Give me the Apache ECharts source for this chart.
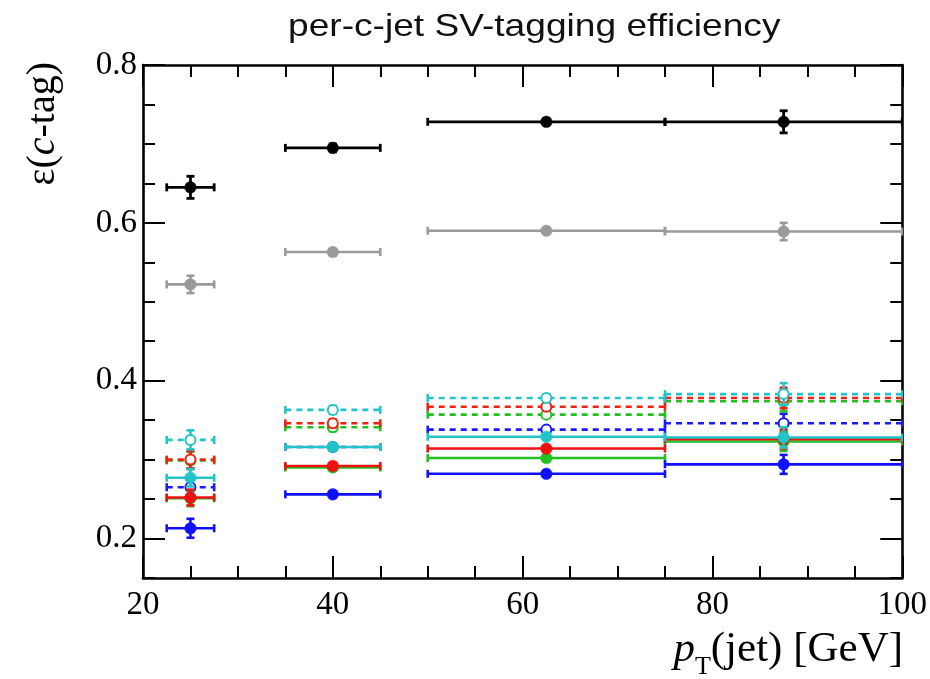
<!DOCTYPE html>
<html><head><meta charset="utf-8">
<script src="https://cdn.jsdelivr.net/npm/echarts@6/dist/echarts.min.js"></script>
<style>html,body{margin:0;padding:0;background:#fff}#c{width:930px;height:679px}</style>
</head><body><div id="c"></div>
<script>
// Bins in pT(jet) [GeV]
var binLow  = [22.5, 35, 50, 75];
var binHigh = [27.5, 45, 75, 100];
var binCenter = [25, 40, 62.5, 87.5];

// Efficiency values and errors per series
var blackVals = [0.645, 0.695, 0.728, 0.728];
var blackErrs = [0.014, 0.005, 0.004, 0.014];
var grayVals  = [0.522, 0.563, 0.590, 0.589];
var grayErrs  = [0.011, 0.004, 0.003, 0.011];

var cyanOpenVals  = [0.325, 0.363, 0.378, 0.383];
var cyanOpenErrs  = [0.012, 0.005, 0.004, 0.014];
var greenOpenVals = [0.299, 0.341, 0.357, 0.374];
var greenOpenErrs = [0.011, 0.005, 0.004, 0.013];
var redOpenVals   = [0.300, 0.346, 0.367, 0.378];
var redOpenErrs   = [0.011, 0.005, 0.004, 0.013];
var blueOpenVals  = [0.265, 0.316, 0.338, 0.346];
var blueOpenErrs  = [0.010, 0.004, 0.004, 0.012];

var cyanFillVals  = [0.277, 0.316, 0.329, 0.328];
var cyanFillErrs  = [0.011, 0.004, 0.004, 0.013];
var greenFillVals = [0.251, 0.290, 0.302, 0.323];
var greenFillErrs = [0.010, 0.004, 0.003, 0.012];
var redFillVals   = [0.252, 0.292, 0.314, 0.326];
var redFillErrs   = [0.010, 0.004, 0.003, 0.012];
var blueFillVals  = [0.213, 0.256, 0.282, 0.294];
var blueFillErrs  = [0.012, 0.004, 0.003, 0.012];

var yMajorTicks = [0.2, 0.4, 0.6, 0.8];
var yMinorTicks = [0.15, 0.25, 0.3, 0.35, 0.45, 0.5, 0.55, 0.65, 0.7, 0.75];

var seriesDefs = [
  {name:'black', color:'#000000', open:false, vals:blackVals, errs:blackErrs},
  {name:'gray', color:'#9a9a9a', open:false, vals:grayVals, errs:grayErrs},
  {name:'blueOpen', color:'#1a1aff', open:true, vals:blueOpenVals, errs:blueOpenErrs},
  {name:'greenOpen', color:'#22c022', open:true, vals:greenOpenVals, errs:greenOpenErrs},
  {name:'redOpen', color:'#ee2211', open:true, vals:redOpenVals, errs:redOpenErrs},
  {name:'cyanOpen', color:'#22c4c8', open:true, vals:cyanOpenVals, errs:cyanOpenErrs},
  {name:'greenFill', color:'#22c022', open:false, vals:greenFillVals, errs:greenFillErrs},
  {name:'redFill', color:'#ee1111', open:false, vals:redFillVals, errs:redFillErrs},
  {name:'cyanFill', color:'#22c4c8', open:false, vals:cyanFillVals, errs:cyanFillErrs},
  {name:'blueFill', color:'#1010ff', open:false, vals:blueFillVals, errs:blueFillErrs}
];

function makeSeries(def){
  var data = def.vals.map(function(v,i){ return [binCenter[i], v, binLow[i], binHigh[i], def.errs[i]]; });
  return {
    type:'custom', name:def.name, data:data, clip:true, z: 2,
    encode:{x:[0,2,3], y:1},
    renderItem:function(params, api){
      var xc = api.value(0), y = api.value(1), lo = api.value(2), hi = api.value(3), e = api.value(4);
      var pc = api.coord([xc, y]);
      var pl = api.coord([lo, y]);
      var ph = api.coord([hi, y]);
      var pt = api.coord([xc, y + e]);
      var pb = api.coord([xc, y - e]);
      var lw = def.name==='black' ? 2.8 : 2.6;
      var ls = {stroke:def.color, lineWidth:lw, lineDash: def.open ? [6,5] : null, fill:null};
      var solid = {stroke:def.color, lineWidth:lw, fill:null};
      var cap = 4;
      var ch = [
        {type:'line', shape:{x1:pl[0], y1:pl[1], x2:ph[0], y2:ph[1]}, style:ls},
        {type:'line', shape:{x1:pl[0], y1:pl[1]-cap, x2:pl[0], y2:pl[1]+cap}, style:solid},
        {type:'line', shape:{x1:ph[0], y1:ph[1]-cap, x2:ph[0], y2:ph[1]+cap}, style:solid},
        {type:'line', shape:{x1:pt[0], y1:pt[1], x2:pb[0], y2:pb[1]}, style:solid},
        {type:'line', shape:{x1:pt[0]-cap, y1:pt[1], x2:pt[0]+cap, y2:pt[1]}, style:solid},
        {type:'line', shape:{x1:pb[0]-cap, y1:pb[1], x2:pb[0]+cap, y2:pb[1]}, style:solid},
        {type:'circle', shape:{cx:pc[0], cy:pc[1], r: def.open ? 5 : 5.8},
          style: def.open ? {fill:'#ffffff', stroke:def.color, lineWidth:2} : {fill:def.color, stroke:def.color, lineWidth:0.5}}
      ];
      return {type:'group', children:ch};
    }
  };
}

var serif = 'Liberation Serif, Times New Roman, serif';
var frameLine = {show:true, lineStyle:{color:'#000', width:2.6}};
var chart = echarts.init(document.getElementById('c'), null, {renderer:'canvas'});
var option = {
  backgroundColor:'#ffffff',
  animation:false,
  grid:{left:143, right:27, top:65, bottom:101, containLabel:false},
  xAxis:[
    {type:'value', min:20, max:100, interval:20, position:'bottom',
     axisLine:frameLine,
     axisTick:{show:true, inside:true, length:22, lineStyle:{color:'#000', width:2}},
     minorTick:{show:true, splitNumber:4, length:12, lineStyle:{color:'#000', width:2}},
     axisLabel:{show:true, color:'#000', fontFamily:serif, fontSize:33, margin:11},
     splitLine:{show:false}},
    {type:'value', min:20, max:100, interval:20, position:'top',
     axisLine:frameLine,
     axisTick:{show:true, inside:true, length:22, lineStyle:{color:'#000', width:2}},
     minorTick:{show:true, splitNumber:4, length:12, lineStyle:{color:'#000', width:2}},
     axisLabel:{show:false}, splitLine:{show:false}}
  ],
  yAxis:[
    {type:'value', min:0.15, max:0.8, position:'left',
     axisLine:frameLine,
     axisTick:{show:true, inside:true, length:22, customValues:yMajorTicks, lineStyle:{color:'#000', width:2}},
     axisLabel:{show:true, customValues:yMajorTicks, color:'#000', fontFamily:serif, fontSize:33, margin:6,
       formatter:function(v){ return v.toFixed(1); }},
     splitLine:{show:false}},
    {type:'value', min:0.15, max:0.8, position:'left',
     axisLine:{show:false},
     axisTick:{show:true, inside:true, length:12, customValues:yMinorTicks, lineStyle:{color:'#000', width:2}},
     axisLabel:{show:false}, splitLine:{show:false}},
    {type:'value', min:0.15, max:0.8, position:'right',
     axisLine:frameLine,
     axisTick:{show:true, inside:true, length:22, customValues:yMajorTicks, lineStyle:{color:'#000', width:2}},
     axisLabel:{show:false}, splitLine:{show:false}},
    {type:'value', min:0.15, max:0.8, position:'right',
     axisLine:{show:false},
     axisTick:{show:true, inside:true, length:12, customValues:yMinorTicks, lineStyle:{color:'#000', width:2}},
     axisLabel:{show:false}, splitLine:{show:false}}
  ],
  graphic:[
    {type:'text', x:288, y:27, scaleX:1.16, originX:0, originY:0,
     style:{text:'per-c-jet SV-tagging efficiency', align:'left', verticalAlign:'middle',
       fontFamily:'Liberation Sans, Arial, sans-serif', fontSize:32, fill:'#111'}},
    {type:'text', x:43, y:62, rotation:Math.PI/2,
     style:{text:'{n|ε(}{i|c}{n|-tag)}', align:'right', verticalAlign:'middle', fill:'#000',
       rich:{n:{fontFamily:serif, fontSize:40, fill:'#000'}, i:{fontFamily:serif, fontSize:40, fontStyle:'italic', fill:'#000'}}}},
    {type:'text', x:903, y:650,
     style:{text:'{i|p}{s|T}{n|(jet) [GeV]}', align:'right', verticalAlign:'middle', fill:'#000',
       rich:{i:{fontFamily:serif, fontSize:43, fontStyle:'italic', fill:'#000'},
             s:{fontFamily:serif, fontSize:26, fill:'#000', padding:[34,0,0,0]},
             n:{fontFamily:serif, fontSize:43, fill:'#000'}}}}
  ],
  series: seriesDefs.map(makeSeries)
};
chart.setOption(option);
</script></body></html>
